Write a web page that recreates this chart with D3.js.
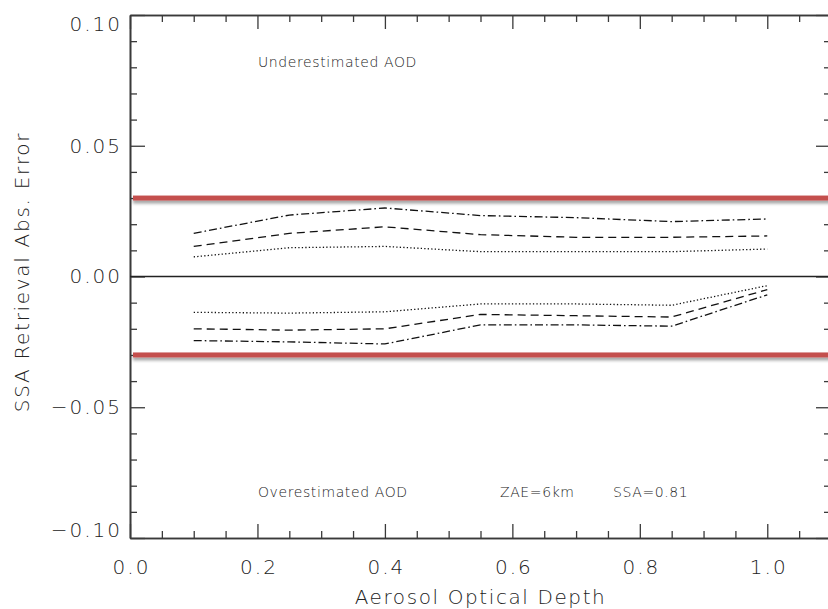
<!DOCTYPE html>
<html>
<head>
<meta charset="utf-8">
<script src="https://cdn.jsdelivr.net/npm/d3@7/dist/d3.min.js"></script>
<style>
  html, body { margin: 0; padding: 0; background: #fff; }
  svg { display: block; }
  text { font-family: "DejaVu Sans", "Liberation Sans", sans-serif; fill: #222; }
</style>
</head>
<body>
<svg id="chart" width="828" height="609"></svg>
<script>
// Aerosol optical depth sample points
const aod = [0.1, 0.25, 0.4, 0.55, 0.7, 0.85, 1.0];

// SSA retrieval absolute error, upper (underestimated AOD) branch
const upperDotted  = [0.0075, 0.011, 0.0115, 0.0095, 0.0095, 0.0095, 0.0105];
const upperDashed  = [0.0115, 0.0165, 0.019, 0.016, 0.015, 0.015, 0.0155];
const upperDotDash = [0.0165, 0.0235, 0.0262, 0.0233, 0.0225, 0.021, 0.022];

// lower (overestimated AOD) branch
const lowerDotted  = [-0.0137, -0.014, -0.0135, -0.0105, -0.0105, -0.011, -0.0035];
const lowerDashed  = [-0.020, -0.0205, -0.020, -0.0145, -0.015, -0.0155, -0.005];
const lowerDotDash = [-0.0245, -0.025, -0.0258, -0.0185, -0.0185, -0.019, -0.007];

// threshold bands
const thresholds = [0.03, -0.03];

// axis ticks
const xMajor = [0.0, 0.2, 0.4, 0.6, 0.8, 1.0];
const yMajor = [-0.10, -0.05, 0.00, 0.05, 0.10];

const svg = d3.select("#chart");
const mLeft = 130, mRight = 831, mTop = 15, mBottom = 538;

const x = d3.scaleLinear().domain([0, 1.1]).range([mLeft, mRight]);
const y = d3.scaleLinear().domain([-0.1, 0.1]).range([mBottom, mTop]);

const xMinor = d3.range(0, 1.1001, 0.05).filter(v => !xMajor.some(m => Math.abs(m - v) < 1e-6));
const yMinor = d3.range(-0.1, 0.1001, 0.01).filter(v => !yMajor.some(m => Math.abs(m - v) < 1e-6));

// drop shadow for the threshold bands
const defs = svg.append("defs");
const f = defs.append("filter").attr("id", "shadow")
  .attr("x", "-5%").attr("y", "-150%").attr("width", "110%").attr("height", "400%");
f.append("feDropShadow").attr("dx", 0).attr("dy", 3).attr("stdDeviation", 1.8)
  .attr("flood-color", "#000").attr("flood-opacity", 0.35);

const axisColor = "#3a3a3a";
function styleAxis(g) {
  g.selectAll("path.domain").attr("stroke", axisColor).attr("stroke-width", 1.6);
  g.selectAll(".tick line").attr("stroke", axisColor).attr("stroke-width", 1.3);
}
function styleLabels(g) {
  g.selectAll("text").attr("font-size", 20).attr("font-weight", 200).attr("fill", "#222")
    .attr("letter-spacing", 2).attr("font-family", "'DejaVu Sans', sans-serif");
}

// left axis, major ticks with labels
const gl = svg.append("g").attr("transform", `translate(${mLeft},0)`)
  .call(d3.axisLeft(y).tickValues(yMajor).tickSizeInner(-15).tickSizeOuter(0).tickPadding(8)
    .tickFormat(d => Math.abs(d) < 1e-9 ? "0.00" : (d < 0 ? "\u2212" + d3.format(".2f")(-d) : d3.format(".2f")(d))));
styleLabels(gl);
gl.selectAll("text")
  .attr("transform", d => d === 0.1 ? "translate(0,9)" : d === -0.1 ? "translate(0,-8)" : null);
styleAxis(gl);
svg.append("g").attr("transform", `translate(${mLeft},0)`)
  .call(d3.axisLeft(y).tickValues(yMinor).tickSizeInner(-7).tickSizeOuter(0).tickFormat(""))
  .call(styleAxis);

// right axis (ticks only)
const gr = svg.append("g").attr("transform", `translate(${mRight},0)`)
  .call(d3.axisRight(y).tickValues(yMajor).tickSizeInner(-15).tickSizeOuter(0).tickFormat(""));
styleAxis(gr);
svg.append("g").attr("transform", `translate(${mRight},0)`)
  .call(d3.axisRight(y).tickValues(yMinor).tickSizeInner(-7).tickSizeOuter(0).tickFormat(""))
  .call(styleAxis);

// bottom axis, major ticks with labels
const gb = svg.append("g").attr("transform", `translate(0,${mBottom})`)
  .call(d3.axisBottom(x).tickValues(xMajor).tickSizeInner(-14).tickSizeOuter(0).tickPadding(22)
    .tickFormat(d3.format(".1f")));
styleLabels(gb);
gb.selectAll("text").attr("dx", 1);
styleAxis(gb);
svg.append("g").attr("transform", `translate(0,${mBottom})`)
  .call(d3.axisBottom(x).tickValues(xMinor).tickSizeInner(-7).tickSizeOuter(0).tickFormat(""))
  .call(styleAxis);

// top axis (ticks only)
const gt = svg.append("g").attr("transform", `translate(0,${mTop})`)
  .call(d3.axisTop(x).tickValues(xMajor).tickSizeInner(-14).tickSizeOuter(0).tickFormat(""));
styleAxis(gt);
svg.append("g").attr("transform", `translate(0,${mTop})`)
  .call(d3.axisTop(x).tickValues(xMinor).tickSizeInner(-7).tickSizeOuter(0).tickFormat(""))
  .call(styleAxis);

// zero line
svg.append("line")
  .attr("x1", x(0)).attr("x2", x(1.1)).attr("y1", y(0)).attr("y2", y(0))
  .attr("stroke", "#222").attr("stroke-width", 1.4);

// threshold bands (drawn as thin rects so the shadow filter has a box to work with)
svg.selectAll("rect.threshold").data(thresholds).join("rect")
  .attr("class", "threshold")
  .attr("x", x(0) + 3).attr("width", x(1.1) - x(0) - 3)
  .attr("y", d => y(d) - 2.5).attr("height", 5)
  .attr("fill", "#c4504e")
  .attr("filter", "url(#shadow)");

// error curves
const line = d3.line().x(d => x(d[0])).y(d => y(d[1]));
const curves = [
  { values: upperDotted,  dash: "1.3,2.2" },
  { values: upperDashed,  dash: "8,5" },
  { values: upperDotDash, dash: "8,3,1.6,3" },
  { values: lowerDotted,  dash: "1.3,2.2" },
  { values: lowerDashed,  dash: "8,5" },
  { values: lowerDotDash, dash: "8,3,1.6,3" }
];
svg.selectAll("path.curve").data(curves).join("path")
  .attr("class", "curve")
  .attr("d", c => line(aod.map((a, i) => [a, c.values[i]])))
  .attr("fill", "none").attr("stroke", "#111").attr("stroke-width", 1.3)
  .attr("stroke-dasharray", c => c.dash);

// annotations
const note = (tx, ty, s) => svg.append("text").attr("x", tx).attr("y", ty)
  .attr("font-size", 14).attr("font-weight", 200).attr("letter-spacing", 0.6)
  .attr("fill", "#111").text(s);
note(258, 67, "Underestimated AOD");
note(258, 497, "Overestimated AOD");
note(500, 497, "ZAE=6km");
note(613, 497, "SSA=0.81");

// axis titles
svg.append("text").attr("x", (mLeft + mRight) / 2).attr("y", 604)
  .attr("text-anchor", "middle").attr("font-size", 20).attr("font-weight", 200)
  .attr("letter-spacing", 1.6)
  .text("Aerosol Optical Depth");
svg.append("text").attr("transform", `translate(29,272) rotate(-90)`)
  .attr("text-anchor", "middle").attr("font-size", 20).attr("font-weight", 200)
  .attr("letter-spacing", 1.7)
  .text("SSA Retrieval Abs. Error");
</script>
</body>
</html>
